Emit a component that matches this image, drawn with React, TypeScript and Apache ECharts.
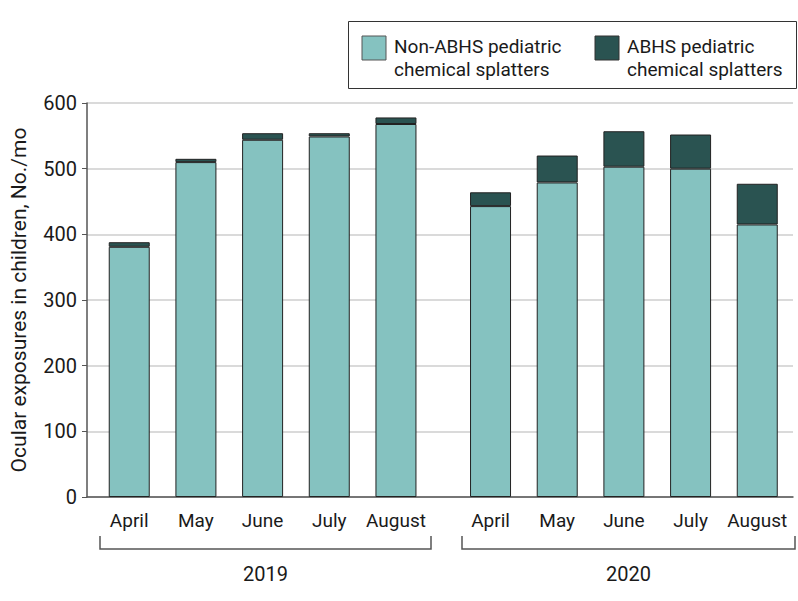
import React, { useEffect, useRef } from "react";
import * as echarts from "echarts";

const months = ["April", "May", "June", "July", "August"];
const years = ["2019", "2020"];
const nonAbhs2019 = [381, 510, 544, 549, 568];
const abhs2019 = [7, 5, 10, 5, 10];
const nonAbhs2020 = [443, 479, 503, 500, 415];
const abhs2020 = [21, 41, 54, 52, 62];
const yTicks = [0, 100, 200, 300, 400, 500, 600];
const seriesNames = [
  "Non-ABHS pediatric\nchemical splatters",
  "ABHS pediatric\nchemical splatters",
];

const LIGHT = "#85C2C0";
const DARK = "#2A5351";
const FONT = "Roboto, 'Liberation Sans', sans-serif";
const FS = 19;

export default function App() {
  const ref = useRef<HTMLDivElement>(null);
  useEffect(() => {
    if (!ref.current) return;
    const chart = echarts.init(ref.current, null, { renderer: "svg" });
    const top = 103;
    const bottom = 104;
    const barGrid = (left: number) => ({ left, width: 333.4, top, bottom });
    const catAxis = (gridIndex: number) => ({
      type: "category",
      gridIndex,
      data: months,
      axisLine: { show: false },
      axisTick: { show: false },
      axisLabel: { color: "#1a1a1a", fontSize: FS, fontFamily: FONT, margin: 14, interval: 0 },
    });
    const hiddenY = (gridIndex: number) => ({
      type: "value",
      gridIndex,
      min: yTicks[0],
      max: yTicks[yTicks.length - 1],
      interval: 100,
      show: false,
      splitLine: { show: false },
    });
    const barStyle = (color: string) => ({
      color,
      borderColor: "#222",
      borderWidth: 1,
    });
    const groups = [
      { non: nonAbhs2019, abhs: abhs2019 },
      { non: nonAbhs2020, abhs: abhs2020 },
    ];
    const series: any[] = [];
    groups.forEach((g, i) => {
      series.push({
        type: "bar",
        name: seriesNames[0],
        xAxisIndex: i + 1,
        yAxisIndex: i + 1,
        stack: "s" + i,
        barWidth: 41,
        data: g.non,
        itemStyle: barStyle(LIGHT),
      });
      series.push({
        type: "bar",
        name: seriesNames[1],
        xAxisIndex: i + 1,
        yAxisIndex: i + 1,
        stack: "s" + i,
        barWidth: 41,
        data: g.abhs,
        itemStyle: barStyle(DARK),
      });
    });

    const bracket = (x1: number, x2: number, label: string) => [
      {
        type: "polyline",
        shape: { points: [[x1, 536], [x1, 549], [x2, 549], [x2, 536]] },
        style: { stroke: "#555", lineWidth: 1.5, fill: null },
        silent: true,
      },
      {
        type: "text",
        x: (x1 + x2) / 2,
        y: 574,
        style: {
          text: label,
          fontSize: 20,
          fontFamily: FONT,
          fill: "#1a1a1a",
          align: "center",
          verticalAlign: "middle",
        },
      },
    ];

    chart.setOption({
      animation: false,
      grid: [
        { left: 83, right: 5, top, bottom },
        barGrid(95.9),
        barGrid(457.2),
      ],
      xAxis: [
        {
          type: "value",
          gridIndex: 0,
          min: 0,
          max: 1,
          axisLine: { show: true, lineStyle: { color: "#555", width: 1.5 } },
          axisTick: { show: false },
          axisLabel: { show: false },
          splitLine: { show: false },
        },
        catAxis(1),
        catAxis(2),
      ],
      yAxis: [
        {
          type: "value",
          gridIndex: 0,
          min: yTicks[0],
          max: yTicks[yTicks.length - 1],
          interval: 100,
          name: "Ocular exposures in children, No./mo",
          nameLocation: "middle",
          nameGap: 58,
          nameTextStyle: { fontSize: 21, fontFamily: FONT, color: "#1a1a1a" },
          axisLine: { show: true, lineStyle: { color: "#555", width: 1.5 } },
          axisTick: { show: true, length: 5, lineStyle: { color: "#555" } },
          axisLabel: { color: "#1a1a1a", fontSize: 20, fontFamily: FONT, margin: 10 },
          splitLine: { show: true, lineStyle: { color: "#dadada", width: 2 } },
        },
        hiddenY(1),
        hiddenY(2),
      ],
      legend: { show: false },
      series,
      graphic: [
        {
          type: "rect",
          shape: { x: 348.5, y: 21.5, width: 448, height: 67 },
          style: { fill: "#fff", stroke: "#333", lineWidth: 1 },
        },
        {
          type: "rect",
          shape: { x: 362, y: 36, width: 24, height: 24 },
          style: { fill: LIGHT, stroke: "#555", lineWidth: 1 },
        },
        {
          type: "text",
          x: 394,
          y: 35,
          style: {
            text: seriesNames[0],
            fontSize: FS,
            lineHeight: 23,
            fontFamily: FONT,
            fill: "#1a1a1a",
            verticalAlign: "top",
          },
        },
        {
          type: "rect",
          shape: { x: 595, y: 36, width: 24, height: 24 },
          style: { fill: DARK, stroke: "#333", lineWidth: 1 },
        },
        {
          type: "text",
          x: 627,
          y: 35,
          style: {
            text: seriesNames[1],
            fontSize: FS,
            lineHeight: 23,
            fontFamily: FONT,
            fill: "#1a1a1a",
            verticalAlign: "top",
          },
        },
        ...bracket(100, 431, years[0]),
        ...bracket(462, 795, years[1]),
      ],
    });
    return () => chart.dispose();
  }, []);
  return <div ref={ref} style={{ width: 798, height: 601, position: "absolute", left: 0, top: 0 }} />;
}
